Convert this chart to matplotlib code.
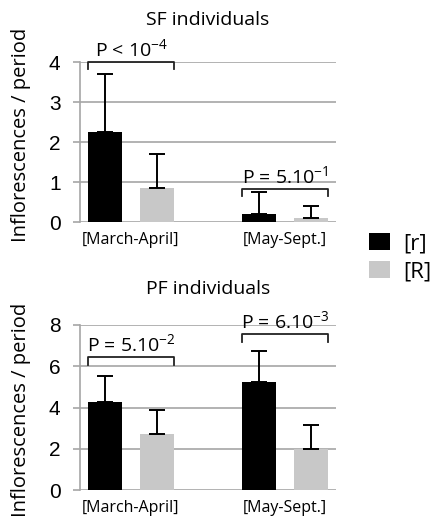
import matplotlib
matplotlib.use("Agg")
import matplotlib.pyplot as plt
import numpy as np

plt.rcParams['font.family'] = ['Open Sans', 'DejaVu Sans']
plt.rcParams['mathtext.default'] = 'regular'

periods = ["[March-April]", "[May-Sept.]"]
series = ["[r]", "[R]"]

sf_r = [2.26, 0.19]
sf_R = [0.86, 0.09]
sf_r_err = [1.43, 0.55]
sf_R_err = [0.83, 0.30]

pf_r = [4.28, 5.26]
pf_R = [2.70, 2.00]
pf_r_err = [1.25, 1.50]
pf_R_err = [1.20, 1.14]

sf_pvals = ["P < 10$^{-4}$", "P = 5.10$^{-1}$"]
pf_pvals = ["P = 5.10$^{-2}$", "P = 6.10$^{-3}$"]
sf_bracket_y = [4.0, 0.82]
pf_bracket_y = [6.44, 7.56]

colors = ["#000000", "#c8c8c8"]
grid_col = "#a6a6a6"

fig = plt.figure(figsize=(4.35, 5.21), dpi=100)

W = 0.2175
OFF = 0.169

def panel(rect, r, R, rerr, Rerr, ymax, step, title, pvals, by, tick_dy, tpad, label_y):
    ax = fig.add_axes(rect)
    x = np.arange(len(periods))
    ax.bar(x - OFF, r, W, color=colors[0], zorder=3)
    ax.bar(x + OFF, R, W, color=colors[1], zorder=3)
    ax.errorbar(x - OFF, r, yerr=[np.zeros(len(r)), rerr], fmt='none',
                ecolor='black', elinewidth=1.4, capsize=6, capthick=1.4, zorder=4)
    ax.errorbar(x + OFF, R, yerr=[np.zeros(len(R)), Rerr], fmt='none',
                ecolor='black', elinewidth=1.4, capsize=6, capthick=1.4, zorder=4)
    ax.set_xlim(-0.331, 1.331)
    ax.set_ylim(0, ymax)
    ticks = np.arange(0, ymax + 0.001, step)
    ax.set_yticks(ticks)
    ax.set_yticklabels([str(int(v)) for v in ticks],
                       family='Liberation Sans', fontsize=15)
    ax.yaxis.grid(True, color=grid_col, linewidth=1.2, zorder=0)
    ax.set_axisbelow(True)
    for s in ['top', 'right', 'bottom']:
        ax.spines[s].set_visible(False)
    ax.spines['left'].set_color(grid_col)
    ax.spines['left'].set_linewidth(1.2)
    ax.tick_params(axis='y', length=5, width=1.2, color=grid_col, pad=9)
    ax.set_xticks(x)
    ax.set_xticklabels(periods, fontsize=11.5)
    ax.tick_params(axis='x', length=0, pad=7)
    ax.set_ylabel("Inflorescences / period", fontsize=14.5)
    ax.yaxis.set_label_coords(-0.19, label_y)
    ax.set_title(title, fontsize=14, pad=tpad)
    for i in range(len(periods)):
        x0 = x[i] - OFF - W / 2
        x1 = x[i] + OFF + W / 2
        y = by[i]
        ax.plot([x0, x0, x1, x1], [y - tick_dy, y, y, y - tick_dy],
                color='#222222', linewidth=1.3, clip_on=False, zorder=5)
        ax.text((x0 + x1) / 2, y + tick_dy * 0.25, pvals[i], ha='center', va='bottom',
                fontsize=14, clip_on=False, zorder=6)
    return ax

ax1 = panel([80/435, 1 - 222/521, 256/435, 160/521], sf_r, sf_R, sf_r_err, sf_R_err,
            4, 1, "SF individuals", sf_pvals, sf_bracket_y, 0.18, 27, 0.547)
ax2 = panel([80/435, 1 - 490/521, 256/435, 165/521], pf_r, pf_R, pf_r_err, pf_R_err,
            8, 2, "PF individuals", pf_pvals, pf_bracket_y, 0.36, 22, 0.485)

# legend
from matplotlib.patches import Patch
handles = [Patch(facecolor=c, edgecolor='none') for c in colors]
fig.legend(handles, series, loc='center left', bbox_to_anchor=(369/435, 1 - 258/521),
           frameon=False, fontsize=16, handlelength=0.95, handleheight=0.8,
           handletextpad=0.6, labelspacing=0.3, borderpad=0, borderaxespad=0)

fig.savefig("out.png", dpi=100)
